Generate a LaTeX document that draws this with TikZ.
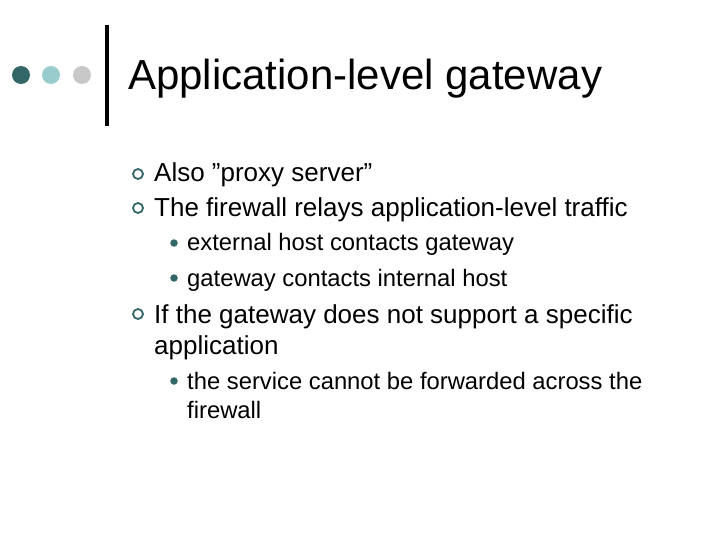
\documentclass[tikz,border=0pt]{standalone}
\usepackage{fontspec}
\setmainfont{Liberation Sans}
\definecolor{dk}{HTML}{336666}
\definecolor{lt}{HTML}{99CCCC}
\definecolor{gr}{HTML}{C8C8C8}
\tikzset{x=1pt,y=-1pt,
 t1/.style={anchor=base west,inner sep=0,font=\fontsize{26}{31}\selectfont},
 t2/.style={anchor=base west,inner sep=0,font=\fontsize{23.8}{29}\selectfont},
 b1/.style={draw=dk,line width=1.8pt,circle,minimum size=10pt,inner sep=0},
 b2/.style={fill=dk,circle,minimum size=7.5pt,inner sep=0}}
\begin{document}
\begin{tikzpicture}
\useasboundingbox (0,0) rectangle (720,540);
\fill[dk] (21,75) circle (9);
\fill[lt] (51,75) circle (9);
\fill[gr] (82,75) circle (9);
\draw[line width=4pt] (107,25) -- (107,126);
\node (title) [anchor=base west,inner sep=0,font=\fontsize{42}{48}\selectfont] at (128,90) {Application-level gateway};
\node[b1] (p1) at (138,174) {};
\node[t1] (a1) at (154,182) {Also \symbol{34}proxy server\symbol{34}};
\node[b1] (p2) at (138,208) {};
\node[t1] (a2) at (154,216) {The firewall relays application-level traffic};
\node[b2] (q1) at (174,243) {};
\node[t2] (c1) at (187,251) {external host contacts gateway};
\node[b2] (q2) at (174,278) {};
\node[t2] (c2) at (187,286) {gateway contacts internal host};
\node[b1] (p3) at (138,314) {};
\node[t1] (a3) at (154,323) {If the gateway does not support a specific};
\node[t1] (a4) at (154,354) {application};
\node[b2] (q3) at (174,381) {};
\node[t2] (c3) at (187,389) {the service cannot be forwarded across the};
\node[t2] (c4) at (187,418) {firewall};
\end{tikzpicture}
\end{document}
